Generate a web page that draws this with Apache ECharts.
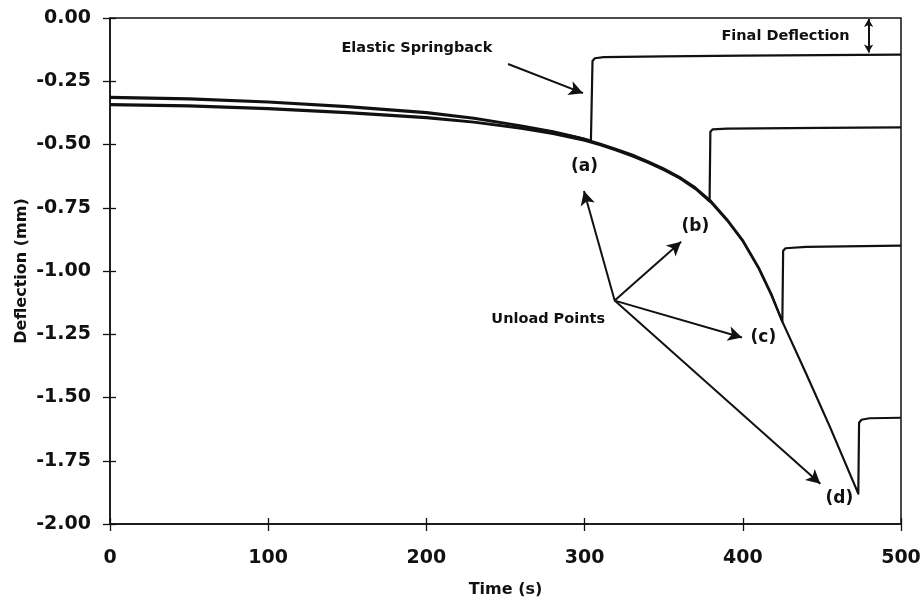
<!DOCTYPE html>
<html>
<head>
<meta charset="utf-8">
<script src="https://cdn.jsdelivr.net/npm/echarts@6/dist/echarts.min.js"></script>
<style>html,body{margin:0;padding:0;background:#fff}#c{width:924px;height:605px}</style>
</head>
<body>
<div id="c"></div>
<script>
// ---- data (time s, deflection mm) ----
const curveA = [[0,-0.312],[50,-0.318],[100,-0.330],[150,-0.348],[200,-0.372],[230,-0.395],[260,-0.425],[280,-0.448],[295,-0.470],[304,-0.484],
  [305,-0.17],[306.5,-0.159],[312,-0.155],[350,-0.152],[400,-0.149],[450,-0.147],[500,-0.145]];
const curveB = [[0,-0.340],[50,-0.345],[100,-0.356],[150,-0.372],[200,-0.392],[230,-0.410],[260,-0.434],[280,-0.455],[300,-0.482],
  [310,-0.500],[320,-0.521],[330,-0.543],[340,-0.569],[350,-0.598],[360,-0.631],[370,-0.672],[379,-0.725],
  [379.5,-0.45],[381,-0.440],[390,-0.437],[450,-0.434],[500,-0.432]];
const curveC = [[0,-0.316],[50,-0.322],[100,-0.334],[150,-0.352],[200,-0.376],[230,-0.398],[260,-0.428],[280,-0.450],[300,-0.478],
  [310,-0.497],[320,-0.518],[330,-0.540],[340,-0.566],[350,-0.595],[360,-0.628],[370,-0.670],[380,-0.724],
  [390,-0.795],[400,-0.878],[410,-0.985],[418,-1.090],[425,-1.200],
  [425.5,-0.92],[427,-0.910],[440,-0.905],[500,-0.900]];
const curveD = [[0,-0.344],[50,-0.349],[100,-0.360],[150,-0.376],[200,-0.396],[230,-0.413],[260,-0.437],[280,-0.458],[300,-0.485],
  [310,-0.503],[320,-0.524],[330,-0.546],[340,-0.572],[350,-0.601],[360,-0.634],[370,-0.676],[380,-0.730],
  [390,-0.800],[400,-0.883],[410,-0.990],[418,-1.095],[425,-1.200],
  [440,-1.405],[455,-1.615],[473,-1.880],
  [473.5,-1.60],[475,-1.588],[480,-1.582],[500,-1.580]];
const xTicks = [0,100,200,300,400,500];
const yTicks = [0,-0.25,-0.5,-0.75,-1,-1.25,-1.5,-1.75,-2];

// annotation texts and anchor points (data coordinates)
const noteTexts = ['Elastic Springback','Final Deflection','Unload Points','(a)','(b)','(c)','(d)'];
const notePoints = [[194,-0.121],[427,-0.072],[277,-1.192],[300,-0.589],[370,-0.825],[413,-1.264],[461,-1.901]];
// arrows: [from, to]
const arrowFrom = [[251.6,-0.182],[319,-1.117],[319,-1.117],[319,-1.117],[319,-1.117]];
const arrowTo   = [[299,-0.297],[299.6,-0.684],[361,-0.884],[399.5,-1.263],[449,-1.841]];
const finalDefl = [[479.5,-0.004],[479.5,-0.136]];

const FONT = '"DejaVu Sans", Verdana, sans-serif';
const chart = echarts.init(document.getElementById('c'), null, {renderer:'canvas'});

const lineSeries = (name, data) => ({
  name, type:'line', data, showSymbol:false, symbol:'none', smooth:false,
  lineStyle:{color:'#111', width:2.2, join:'round'}, animation:false, z:3
});

const markLineData = arrowFrom.map((f,i)=>[{coord:f},{coord:arrowTo[i]}]);
markLineData.push([{coord:finalDefl[0], symbol:'arrow', symbolSize:[7,8]},{coord:finalDefl[1], symbol:'arrow', symbolSize:[7,8]}]);

const sA = lineSeries('a', curveA);
sA.markLine = {
  silent:true, animation:false,
  symbol:['none','arrow'], symbolSize:[11,14],
  lineStyle:{color:'#111', width:2, type:'solid'},
  label:{show:false},
  data: markLineData
};
sA.markPoint = {
  silent:true, animation:false,
  symbol:'circle', symbolSize:0,
  label:{show:true, position:'inside', color:'#111', fontFamily:FONT, fontWeight:'bold', fontSize:14.5},
  data: notePoints.map((p,i)=>({coord:p, value:noteTexts[i],
     label:{formatter:noteTexts[i], fontSize: i>=3 ? 17 : 14.5}}))
};

const axisText = {color:'#111', fontFamily:FONT, fontWeight:'bold', fontSize:19};
const gridRect = {left:110, right:23, top:18, bottom:81};

chart.setOption({
  animation:false,
  backgroundColor:'#fff',
  grid:[Object.assign({show:true, borderColor:'#111', borderWidth:1.5, backgroundColor:'transparent'}, gridRect),
        Object.assign({show:false}, gridRect)],
  xAxis:[{
    gridIndex:0, type:'value', min:0, max:500, interval:100, position:'bottom',
    axisLine:{show:true, onZero:false, lineStyle:{color:'#111', width:1.5}},
    axisTick:{show:true, length:7, lineStyle:{color:'#111', width:1.3}},
    axisLabel:Object.assign({margin:25, formatter:v=>xTicks.includes(v)?String(v):''}, axisText),
    splitLine:{show:false},
    name:'Time (s)', nameLocation:'middle', nameGap:58, nameMoveOverlap:false,
    nameTextStyle:{color:'#111', fontFamily:FONT, fontWeight:'bold', fontSize:16}
  },{
    gridIndex:1, type:'value', min:0, max:500, interval:100, position:'bottom',
    axisLine:{show:false, onZero:false}, axisLabel:{show:false}, splitLine:{show:false},
    axisTick:{show:true, inside:true, length:6, lineStyle:{color:'#111', width:1.3}}
  }],
  yAxis:[{
    gridIndex:0, type:'value', min:-2, max:0, interval:0.25, position:'left',
    axisLine:{show:true, onZero:false, lineStyle:{color:'#111', width:1.5}},
    axisTick:{show:true, length:7, lineStyle:{color:'#111', width:1.3}},
    axisLabel:Object.assign({margin:19, formatter:v=>yTicks.some(t=>Math.abs(t-v)<1e-9)?v.toFixed(2):''}, axisText),
    splitLine:{show:false},
    name:'Deflection (mm)', nameLocation:'middle', nameGap:80, nameMoveOverlap:false,
    nameTextStyle:{color:'#111', fontFamily:FONT, fontWeight:'bold', fontSize:16}
  },{
    gridIndex:1, type:'value', min:-2, max:0, interval:0.25, position:'left',
    axisLine:{show:false, onZero:false}, axisLabel:{show:false}, splitLine:{show:false},
    axisTick:{show:true, inside:true, length:6, lineStyle:{color:'#111', width:1.3}}
  }],
  series:[ sA, lineSeries('b', curveB), lineSeries('c', curveC), lineSeries('d', curveD) ]
});
</script>
</body>
</html>
